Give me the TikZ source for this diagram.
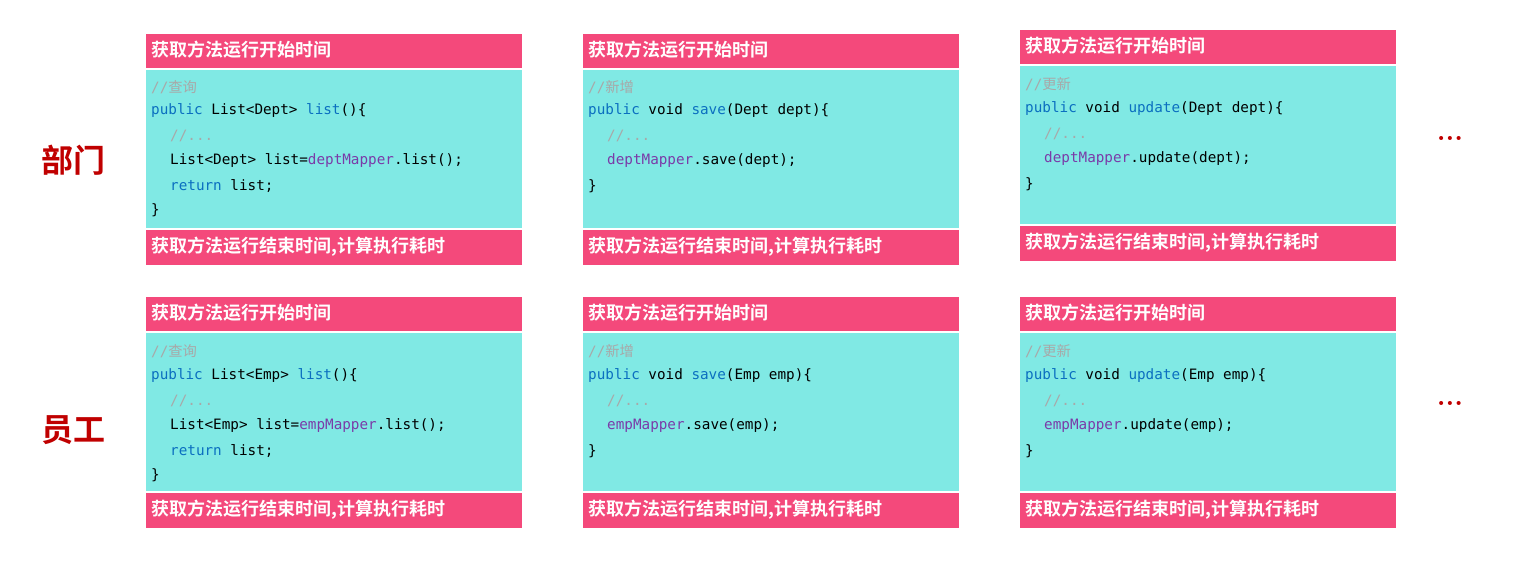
\documentclass[tikz,border=0pt]{standalone}
\usepackage{fontspec}
\setmonofont{DejaVu Sans Mono}
\newfontfamily\cjk{Noto Sans CJK SC}
\newfontfamily\cjkb{Noto Sans CJK SC Bold}
\definecolor{hdr}{HTML}{F4497B}
\definecolor{cyanbg}{HTML}{80E9E4}
\definecolor{kw}{HTML}{0B6FC0}
\definecolor{pu}{HTML}{7A3BA8}
\definecolor{cm}{HTML}{A8A8A8}
\definecolor{lbl}{HTML}{C00000}
\newcommand{\kwd}[1]{\textcolor{kw}{#1}}
\newcommand{\pur}[1]{\textcolor{pu}{#1}}
\newcommand{\cmt}[1]{\textcolor{cm}{#1}}
\begin{document}
\begin{tikzpicture}[x=1pt,y=-1pt,
  hbar/.style={fill=hdr,draw=none},
  cbox/.style={fill=cyanbg,draw=none},
  htext/.style={anchor=west,inner sep=0pt,text=white,font=\cjkb\fontsize{18}{18}\selectfont},
  code/.style={anchor=west,inner sep=0pt,font=\ttfamily\fontsize{14.3}{14}\selectfont},
  side/.style={text=lbl,font=\cjkb\fontsize{32}{32}\selectfont}]
\useasboundingbox (0,0) rectangle (1526,574);
% generic box macro: #1 x, #2 top y, #3 name
\newcommand{\cbx}[3]{%
  \fill[hbar] (#1,#2) rectangle ++(376,33.5);
  \fill[cbox] (#1,#2+35.5) rectangle ++(376,158);
  \fill[hbar] (#1,#2+196) rectangle ++(376,35);
  \node[htext] (#3h) at (#1+5,#2+16) {获取方法运行开始时间};
  \node[htext] (#3f) at (#1+5,#2+213) {获取方法运行结束时间,计算执行耗时};}
\cbx{146}{34}{a}
\cbx{583}{34}{b}
\cbx{1020}{30}{c}
\cbx{146}{297}{d}
\cbx{583}{297}{e}
\cbx{1020}{297}{f}
% row 1 code
\node[code] (a1) at (151,87) {\cmt{//\cjk{查询}}};
\node[code] (a2) at (151,111) {\kwd{public} List<Dept> \kwd{list}()\{};
\node[code] (a3) at (170,136) {\cmt{//...}};
\node[code] (a4) at (170,161) {List<Dept> list=\pur{deptMapper}.list();};
\node[code] (a5) at (170,186) {\kwd{return} list;};
\node[code] (a6) at (151,210) {\}};
\node[code] (b1) at (588,87) {\cmt{//\cjk{新增}}};
\node[code] (b2) at (588,111) {\kwd{public} void \kwd{save}(Dept dept)\{};
\node[code] (b3) at (607,136) {\cmt{//...}};
\node[code] (b4) at (607,161) {\pur{deptMapper}.save(dept);};
\node[code] (b5) at (588,186) {\}};
\node[code] (c1) at (1025,84) {\cmt{//\cjk{更新}}};
\node[code] (c2) at (1025,109) {\kwd{public} void \kwd{update}(Dept dept)\{};
\node[code] (c3) at (1044,134) {\cmt{//...}};
\node[code] (c4) at (1044,159) {\pur{deptMapper}.update(dept);};
\node[code] (c5) at (1025,184) {\}};
% row 2 code
\node[code] (d1) at (151,351) {\cmt{//\cjk{查询}}};
\node[code] (d2) at (151,376) {\kwd{public} List<Emp> \kwd{list}()\{};
\node[code] (d3) at (170,401) {\cmt{//...}};
\node[code] (d4) at (170,426) {List<Emp> list=\pur{empMapper}.list();};
\node[code] (d5) at (170,451) {\kwd{return} list;};
\node[code] (d6) at (151,475) {\}};
\node[code] (e1) at (588,351) {\cmt{//\cjk{新增}}};
\node[code] (e2) at (588,376) {\kwd{public} void \kwd{save}(Emp emp)\{};
\node[code] (e3) at (607,401) {\cmt{//...}};
\node[code] (e4) at (607,426) {\pur{empMapper}.save(emp);};
\node[code] (e5) at (588,451) {\}};
\node[code] (f1) at (1025,351) {\cmt{//\cjk{更新}}};
\node[code] (f2) at (1025,376) {\kwd{public} void \kwd{update}(Emp emp)\{};
\node[code] (f3) at (1044,401) {\cmt{//...}};
\node[code] (f4) at (1044,426) {\pur{empMapper}.update(emp);};
\node[code] (f5) at (1025,451) {\}};
% side labels
\node[side] (s1) at (73,160) {部门};
\node[side] (s2) at (73,430) {员工};
\node[side,font=\bfseries\fontsize{28}{28}\selectfont] (m1) at (1450,138) {...};
\node[side,font=\bfseries\fontsize{28}{28}\selectfont] (m2) at (1450,403) {...};
\end{tikzpicture}
\end{document}
